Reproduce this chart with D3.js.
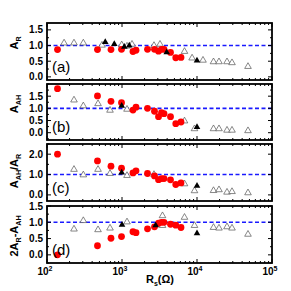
<!DOCTYPE html>
<html>
<head>
<meta charset="utf-8">
<script src="https://cdn.jsdelivr.net/npm/d3@7"></script>
<style>
  body { margin: 0; background: #fff; }
  svg { display: block; font-family: "Liberation Sans", Arial, sans-serif; }
</style>
</head>
<body>
<div id="chart"></div>
<script>
// red circles: same samples in every panel
const redR = [138, 471, 713, 985, 1400, 1537, 2188, 2712, 3069, 3365, 3631, 4433, 5213, 6119];
const redA = [0.87, 0.87, 0.87, 0.88, 0.81, 0.85, 0.88, 0.88, 0.82, 0.88, 0.88, 0.78, 0.61, 0.62];
const redB = [1.81, 1.51, 1.29, 1.23, 0.93, 1.05, 1.0, 0.88, 0.66, 0.82, 0.78, 0.66, 0.37, 0.44];
const redC = [2.0, 1.67, 1.41, 1.31, 1.08, 1.18, 1.05, 0.93, 0.75, 0.8, 0.8, 0.74, 0.51, 0.59];
const redD = [0.0, 0.28, 0.51, 0.56, 0.71, 0.68, 0.8, 0.86, 0.97, 1.0, 1.0, 0.94, 0.91, 0.84];

// open triangles
const openA_R = [169, 229, 305, 541, 991, 1166, 1360, 2670, 3210, 6810, 8600, 12020, 16600, 19640, 25120, 29290, 47860];
const openA_V = [1.08, 1.08, 1.08, 1.01, 1.02, 0.98, 1.04, 1.0, 1.04, 0.81, 0.6, 0.53, 0.48, 0.48, 0.48, 0.45, 0.33];
const openB_R = [229, 305, 479, 692, 1166, 6810, 9260, 16600, 19640, 25120, 29290, 47860];
const openB_V = [1.34, 1.1, 1.19, 0.92, 0.96, 0.48, 0.16, 0.16, 0.16, 0.1, 0.1, 0.08];
const openC_R = [229, 305, 479, 692, 1166, 2670, 6810, 9260, 16600, 19640, 25120, 29290, 47860];
const openC_V = [1.25, 0.98, 1.25, 1.05, 0.95, 1.0, 0.54, 0.2, 0.21, 0.25, 0.13, 0.16, 0.1];
const openD_R = [229, 305, 479, 692, 1166, 3467, 3467, 6810, 9260, 16600, 19640, 25120, 29290, 47860];
const openD_V = [0.79, 1.05, 0.77, 0.82, 1.01, 1.2, 0.9, 1.15, 0.9, 0.84, 0.82, 0.86, 0.82, 0.63];

// filled triangles
const fillA_R = [598, 789, 1073, 1250, 3945, 10000];
const fillA_V = [1.11, 1.05, 0.96, 1.0, 0.78, 0.52];
const fillB_R = [991, 10000];
const fillB_V = [1.1, 0.23];
const fillC_R = [991, 10000];
const fillC_V = [1.1, 0.44];
const fillD_R = [1000, 2810, 10000];
const fillD_V = [0.92, 0.91, 0.66];

const xTicks = [100, 1000, 10000, 100000];
const xTickExp = ["2", "3", "4", "5"];

const panels = [
  { tag: "(a)", top: 23, bottom: 80, dom: [-0.1, 1.72], ticks: [0, 0.5, 1.0, 1.5], minor: 0.25,
    red: redA, openR: openA_R, openV: openA_V, fillR: fillA_R, fillV: fillA_V,
    title: [["A", 0], ["R", 1]], titleY: 43 },
  { tag: "(b)", top: 84, bottom: 140, dom: [-0.3, 2.0], ticks: [0, 0.5, 1.0, 1.5], minor: 0.25,
    red: redB, openR: openB_R, openV: openB_V, fillR: fillB_R, fillV: fillB_V,
    title: [["A", 0], ["AH", 1]], titleY: 104 },
  { tag: "(c)", top: 144, bottom: 201, dom: [-0.3, 2.5], ticks: [0, 1.0, 2.0], minor: 0.5,
    red: redC, openR: openC_R, openV: openC_V, fillR: fillC_R, fillV: fillC_V,
    title: [["A", 0], ["AH", 1], ["/A", 0], ["R", 1]], titleY: 171 },
  { tag: "(d)", top: 206, bottom: 263, dom: [-0.25, 1.5], ticks: [0, 0.5, 1.0, 1.5], minor: 0.25,
    red: redD, openR: openD_R, openV: openD_V, fillR: fillD_R, fillV: fillD_V,
    title: [["2A", 0], ["R", 1], ["-A", 0], ["AH", 1]], titleY: 236 }
];

const W = 291, H = 291;
const left = 47, right = 272;

const svg = d3.select("#chart").append("svg")
  .attr("width", W)
  .attr("height", H);

const x = d3.scaleLog().domain([100, 100000]).range([left, right]);

// minor ticks on log axis
const minorX = [];
for (let e = 2; e < 5; e++) {
  for (let m = 2; m <= 9; m++) minorX.push(m * Math.pow(10, e));
}

const tri = d3.symbol().type(d3.symbolTriangle).size(19);

function addSubText(g, parts, size) {
  // parts: [text, isSub]
  parts.forEach(([t, sub], i) => {
    const prev = i > 0 ? parts[i - 1][1] : 0;
    const dy = sub && !prev ? size * 0.3 : (!sub && prev ? -size * 0.3 : 0);
    g.append("tspan")
      .attr("dy", dy)
      .attr("font-size", sub ? size * 0.65 : size)
      .text(t);
  });
}

panels.forEach((p, pi) => {
  const y = d3.scaleLinear().domain(p.dom).range([p.bottom, p.top]);
  const g = svg.append("g");

  // reference line
  g.append("line")
    .attr("x1", left).attr("x2", right)
    .attr("y1", y(1)).attr("y2", y(1))
    .attr("stroke", "#1a1aff")
    .attr("stroke-width", 1.6)
    .attr("stroke-dasharray", "4,2.5");

  // x ticks, top and bottom, inward
  const xt = g.append("g").attr("stroke", "#000");
  xTicks.forEach(v => {
    xt.append("line").attr("x1", x(v)).attr("x2", x(v)).attr("y1", p.bottom).attr("y2", p.bottom - 4).attr("stroke-width", 1);
    xt.append("line").attr("x1", x(v)).attr("x2", x(v)).attr("y1", p.top).attr("y2", p.top + 4).attr("stroke-width", 1);
  });
  minorX.forEach(v => {
    xt.append("line").attr("x1", x(v)).attr("x2", x(v)).attr("y1", p.bottom).attr("y2", p.bottom - 2).attr("stroke-width", 1);
    xt.append("line").attr("x1", x(v)).attr("x2", x(v)).attr("y1", p.top).attr("y2", p.top + 2).attr("stroke-width", 1);
  });

  // y ticks, left and right, inward
  const minorY = d3.range(Math.ceil(p.dom[0] / p.minor) * p.minor, p.dom[1] + 1e-9, p.minor);
  minorY.forEach(v => {
    const major = p.ticks.some(t => Math.abs(t - v) < 1e-9);
    const len = major ? 4 : 2;
    xt.append("line").attr("x1", left).attr("x2", left + len).attr("y1", y(v)).attr("y2", y(v)).attr("stroke-width", 1);
    xt.append("line").attr("x1", right).attr("x2", right - len).attr("y1", y(v)).attr("y2", y(v)).attr("stroke-width", 1);
  });

  // y tick labels
  g.selectAll(".yl").data(p.ticks).enter().append("text")
    .attr("x", left - 4)
    .attr("y", d => y(d) + 3.5)
    .attr("text-anchor", "end")
    .attr("font-size", 10)
    .attr("font-weight", "bold")
    .text(d => d.toFixed(1));

  // frame
  g.append("rect")
    .attr("x", left).attr("y", p.top)
    .attr("width", right - left).attr("height", p.bottom - p.top)
    .attr("fill", "none")
    .attr("stroke", "#000")
    .attr("stroke-width", 1.8);

  // open triangles
  g.selectAll(".ot").data(p.openR.map((r, i) => [r, p.openV[i]])).enter().append("path")
    .attr("d", tri)
    .attr("transform", d => `translate(${x(d[0])},${y(d[1])})`)
    .attr("fill", "#fff")
    .attr("stroke", "#555")
    .attr("stroke-width", 0.7);

  // red circles
  g.selectAll(".rc").data(redR.map((r, i) => [r, p.red[i]])).enter().append("circle")
    .attr("cx", d => x(d[0]))
    .attr("cy", d => y(d[1]))
    .attr("r", 3.4)
    .attr("fill", "#ff0000");

  // filled triangles
  g.selectAll(".ft").data(p.fillR.map((r, i) => [r, p.fillV[i]])).enter().append("path")
    .attr("d", tri)
    .attr("transform", d => `translate(${x(d[0])},${y(d[1])})`)
    .attr("fill", "#000");

  // panel tag
  g.append("text")
    .attr("x", 52)
    .attr("y", p.bottom - 8)
    .attr("font-size", 15)
    .text(p.tag);

  // y title
  const t = g.append("text")
    .attr("transform", `translate(18,${p.titleY}) rotate(-90)`)
    .attr("text-anchor", "middle")
    .attr("font-weight", "bold");
  addSubText(t, p.title, 11);

  // x tick labels on last panel only
  if (pi === panels.length - 1) {
    xTicks.forEach((v, i) => {
      const lt = g.append("text")
        .attr("x", x(v) - 2)
        .attr("y", p.bottom + 12)
        .attr("text-anchor", "middle")
        .attr("font-weight", "bold")
        .attr("font-size", 10);
      lt.append("tspan").text("10");
      lt.append("tspan").attr("dy", -4).attr("font-size", 7).text(xTickExp[i]);
    });
  }
});

// x title
const xt = svg.append("text")
  .attr("x", 160)
  .attr("y", 283)
  .attr("text-anchor", "middle")
  .attr("font-weight", "bold")
  .attr("font-size", 11);
xt.append("tspan").text("R");
xt.append("tspan").attr("dy", 3).attr("font-size", 7).text("s");
xt.append("tspan").attr("dy", -3).text("(Ω)");
</script>
</body>
</html>
